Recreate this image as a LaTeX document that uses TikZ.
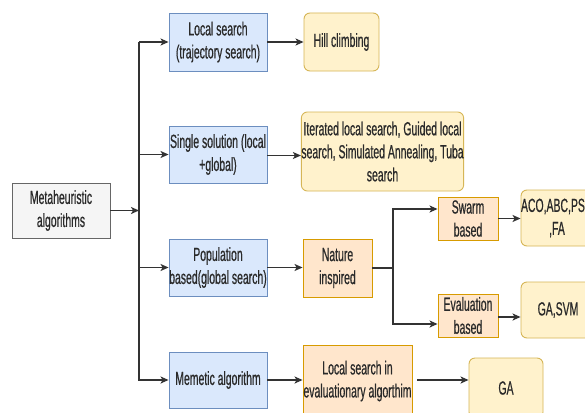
\documentclass[tikz,border=0pt]{standalone}
\usepackage{fontspec}
\setmainfont{Liberation Sans}[FakeStretch=0.55,FakeBold=0.6]
\usetikzlibrary{arrows.meta}
\definecolor{bluefill}{HTML}{DAE8FC}
\definecolor{blueline}{HTML}{6C8EBF}
\definecolor{yelfill}{HTML}{FFF2CC}
\definecolor{yelline}{HTML}{D6B656}
\definecolor{orfill}{HTML}{FFE6CC}
\definecolor{orline}{HTML}{D79B00}
\definecolor{grayfill}{HTML}{F5F5F5}
\definecolor{grayline}{HTML}{666666}
\definecolor{txt}{HTML}{2A2A2A}
\definecolor{conn}{HTML}{333333}
\tikzset{
  box/.style={draw, line width=0.9pt, align=center, text=txt, inner sep=0pt,
    font=\fontsize{19}{23}\selectfont},
  metabox/.style={box, fill=grayfill, draw=grayline},
  bluebox/.style={box, fill=bluefill, draw=blueline},
  yelbox/.style={box, fill=yelfill, draw=yelline, rounded corners=6pt},
  orbox/.style={box, fill=orfill, draw=orline},
  line/.style={draw=conn, line width=1.4pt},
  arr/.style={line, -{Stealth[length=8pt,width=7pt,inset=2pt]}},
}
\begin{document}
\begin{tikzpicture}[x=1pt,y=-1pt]
\useasboundingbox (0,0) rectangle (585,412);
\clip (0,0) rectangle (585,412);
\fill[white] (0,0) rectangle (585,412);

\node[metabox, minimum width=98pt, minimum height=55pt] (meta) at (61,210.5) {Metaheuristic\\algorithms};

\node[bluebox, minimum width=98pt, minimum height=58pt] (ls) at (218,42) {Local search\\(trajectory search)};
\node[bluebox, minimum width=98pt, minimum height=57pt] (ss) at (218,154.5) {Single solution (local\\+global)};
\node[bluebox, minimum width=98pt, minimum height=57pt] (pop) at (218,267.5) {Population\\based(global search)};
\node[bluebox, minimum width=98pt, minimum height=56pt] (mem) at (218,380) {Memetic algorithm};

\node[yelbox, minimum width=75pt, minimum height=58pt] (hill) at (341.5,42) {Hill climbing};
\node[yelbox, minimum width=157pt, minimum height=79pt] (iter) at (382.5,151.5) {Iterated local search, Guided local\\search, Simulated Annealing, Tuba\\search};

\node[orbox, minimum width=69pt, minimum height=58pt] (nat) at (337.5,268) {Nature\\inspired};
\node[orbox, minimum width=60pt, minimum height=43pt] (swarm) at (468,218.5) {Swarm\\based};
\node[orbox, minimum width=60pt, minimum height=43pt] (eval) at (468,315.5) {Evaluation\\based};
\node[orbox, minimum width=109pt, minimum height=72pt] (lsie) at (357.5,381) {Local search in\\evaluationary algorthim};

\node[yelbox, minimum width=72pt, minimum height=56pt] (aco) at (557,218) {ACO,ABC,PSO\\,FA};
\node[yelbox, minimum width=74pt, minimum height=56pt] (gasvm) at (558,310) {GA,SVM};
\node[yelbox, minimum width=74pt, minimum height=60pt] (ga) at (506,388) {GA};

\coordinate (ttop) at (139,42);
\coordinate (tbot) at (139,381);
\coordinate (j) at (393,268);

\draw[line] (ttop) -- (tbot);
\draw[arr] (meta.east) -- (meta.east -| ttop);
\draw[arr] (ls.west -| ttop) -- (ls.west);
\draw[arr] (ss.west -| ttop) -- (ss.west);
\draw[arr] (pop.west -| ttop) -- (pop.west);
\draw[arr] (mem.west -| ttop) -- (mem.west);

\draw[arr] (ls.east) -- (hill.west);
\draw[arr] ([yshift=-1pt]ss.east) -- ([yshift=-1pt]ss.east -| iter.west);
\draw[arr] (pop.east) -- (pop.east -| nat.west);
\draw[arr] (mem.east) -- (mem.east -| lsie.west);

\draw[line] (nat.east) -- (j);
\draw[arr] (j) |- ([yshift=9.5pt]swarm.west);
\draw[arr] (j) |- ([yshift=-8.5pt]eval.west);
\draw[arr] (swarm.east) -- (swarm.east -| aco.west);
\draw[arr] ([yshift=-1.5pt]eval.east) -- ([yshift=-1.5pt]eval.east -| gasvm.west);
\draw[arr] ([xshift=5pt,yshift=1pt]lsie.east) -- ([yshift=1pt]lsie.east -| ga.west);
\end{tikzpicture}
\end{document}
